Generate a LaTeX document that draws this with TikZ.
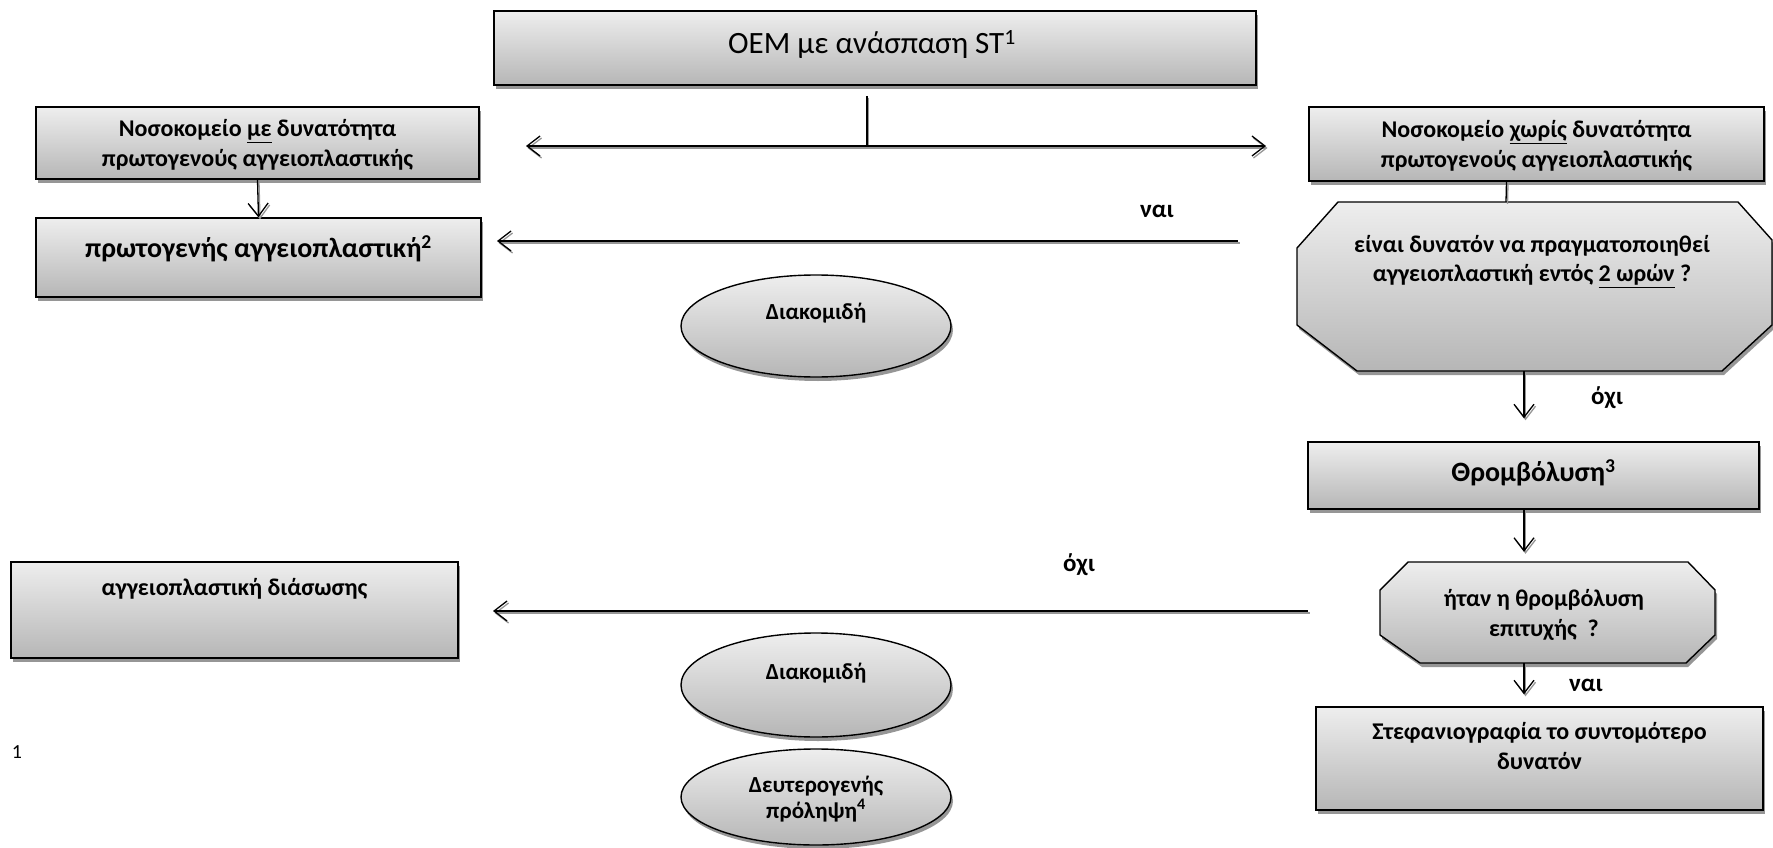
\documentclass[tikz,border=0pt]{standalone}
\usepackage{fontspec}
\setmainfont{Carlito}
\usetikzlibrary{arrows.meta,shapes.geometric,shadows}
\definecolor{topg}{RGB}{238,238,238}
\definecolor{botg}{RGB}{182,182,182}
\definecolor{shd}{RGB}{150,150,150}
\begin{document}
\begin{tikzpicture}[x=1pt,y=-1pt,
  shp/.style={draw=black, line width=1.4pt, top color=topg, bottom color=botg,
    drop shadow={shadow xshift=2pt, shadow yshift=-4pt, fill=shd, opacity=1}},
  boxst/.style={shp, rectangle, inner sep=0pt},
  frame/.style={rectangle, inner sep=0pt, draw=none},
  ell/.style={shp, ellipse, inner sep=0pt},
  txt/.style={font=\bfseries\fontsize{24}{29.5}\selectfont, align=center, inner sep=0pt},
  bigtxt/.style={font=\bfseries\fontsize{28}{32}\selectfont, align=center, inner sep=0pt},
  elltxt/.style={font=\bfseries\fontsize{23}{26}\selectfont, align=center, inner sep=0pt},
  lbl/.style={font=\bfseries\fontsize{25}{30}\selectfont, inner sep=0pt},
  ttl/.style={font=\fontsize{31}{36}\selectfont, align=center, inner sep=0pt},
  conn/.style={line width=1.3pt,
    preaction={draw=shd, line width=1.3pt, transform canvas={xshift=1.5pt,yshift=-2pt}}},
  tip/.style={-{Straight Barb[length=13pt,width=20pt,line width=1.3pt]}},
  tips/.style={{Straight Barb[length=13pt,width=20pt,line width=1.3pt]}-{Straight Barb[length=13pt,width=20pt,line width=1.3pt]}},
]
\useasboundingbox (0,0) rectangle (1773,848);
% shapes
\node[boxst, minimum width=762pt, minimum height=74pt] (top) at (875,48) {};
\node[ttl] (topt) at (872,45) {ΟΕΜ με ανάσπαση ST\textsuperscript{1}};

\node[boxst, minimum width=443pt, minimum height=72pt] (L1) at (257.5,143) {};
\node[txt] (L1t) at (257.5,145) {Νοσοκομείο \underline{με} δυνατότητα\\πρωτογενούς αγγειοπλαστικής};

\node[boxst, minimum width=445pt, minimum height=79pt] (L2) at (258.5,257.5) {};
\node[bigtxt] (L2t) at (258.5,249) {πρωτογενής αγγειοπλαστική\textsuperscript{2}};

\node[boxst, minimum width=455pt, minimum height=74pt] (R1) at (1536.5,144) {};
\node[txt] (R1t) at (1536.5,146) {Νοσοκομείο \underline{χωρίς} δυνατότητα\\πρωτογενούς αγγειοπλαστικής};

% octagon 1
\node[frame, minimum width=475pt, minimum height=169pt] (Q1) at (1534.5,286.5) {};
\path[shp] (1338,202) -- (1738,202) -- (1772,240) -- (1772,325) -- (1722,371)
  -- (1357,371) -- (1297,325) -- (1297,248) -- cycle;
\node[txt] (Q1t) at (1532,261.5) {είναι δυνατόν να πραγματοποιηθεί\\αγγειοπλαστική εντός \underline{2 ωρών} ?};

\node[boxst, minimum width=451pt, minimum height=67pt] (TH) at (1533.5,475.5) {};
\node[bigtxt] (THt) at (1533.5,473) {Θρομβόλυση\textsuperscript{3}};

% octagon 2
\node[frame, minimum width=335pt, minimum height=101pt] (Q2) at (1547.5,612.5) {};
\path[shp] (1408,562) -- (1688,562) -- (1715,590) -- (1715,635) -- (1686,663)
  -- (1420,663) -- (1380,635) -- (1380,590) -- cycle;
\node[txt] (Q2t) at (1544,615) {ήταν η θρομβόλυση\\επιτυχής\ \ ?};

\node[boxst, minimum width=447pt, minimum height=103pt] (ST) at (1539.5,758.5) {};
\node[txt] (STt) at (1539.5,746) {Στεφανιογραφία το συντομότερο\\δυνατόν};

\node[boxst, minimum width=447pt, minimum height=96pt] (L3) at (234.5,610) {};
\node[txt] (L3t) at (234.5,589) {αγγειοπλαστική διάσωσης};

\node[ell, minimum width=270pt, minimum height=102pt] (E1) at (816,326) {};
\node[elltxt] (E1t) at (816,313) {Διακομιδή};
\node[ell, minimum width=270pt, minimum height=104pt] (E2) at (816,685) {};
\node[elltxt] (E2t) at (816,673) {Διακομιδή};
\node[ell, minimum width=270pt, minimum height=96pt] (E3) at (816,797) {};
\node[elltxt] (E3t) at (816,799) {Δευτερογενής\\πρόληψη\textsuperscript{4}};

% labels
\node[lbl] (n1) at (1157,211) {ναι};
\node[lbl] (o1) at (1607,398) {όχι};
\node[lbl] (o2) at (1079,565) {όχι};
\node[lbl] (n2) at (1586,685) {ναι};
\node[font=\fontsize{20}{24}\selectfont, inner sep=0pt] (fn) at (17,752) {1};

% connectors
\coordinate (tj) at (867,96);
\coordinate (hm) at (867,146);
\coordinate (hl) at (526,146);
\coordinate (hr) at (1266,146);
\draw[conn] (tj) -- (hm);
\draw[conn,tips] (hl) -- (hr);
\draw[conn,tip] (L1.south) -- (L2.north);
\draw[conn] ([xshift=-30pt]R1.south) -- ([xshift=-28.5pt]Q1.north);
\draw[conn,tip,shorten >=23pt] ([xshift=-10.5pt]Q1.south) -- ([xshift=-9.5pt]TH.north);
\draw[conn,tip,shorten >=10pt] ([xshift=-9.5pt]TH.south) -- ([xshift=-9.5pt]TH.south |- Q2.north);
\draw[conn,tip,shorten >=12pt] ([xshift=-23.5pt]Q2.south) -- ([xshift=-23.5pt]Q2.south |- ST.north);
\coordinate (ya) at (1238,241);
\coordinate (yb) at (497,241);
\draw[conn,tip] (ya) -- (yb);
\coordinate (na) at (1308,611);
\coordinate (nb) at (493,611);
\draw[conn,tip] (na) -- (nb);
\end{tikzpicture}
\end{document}
